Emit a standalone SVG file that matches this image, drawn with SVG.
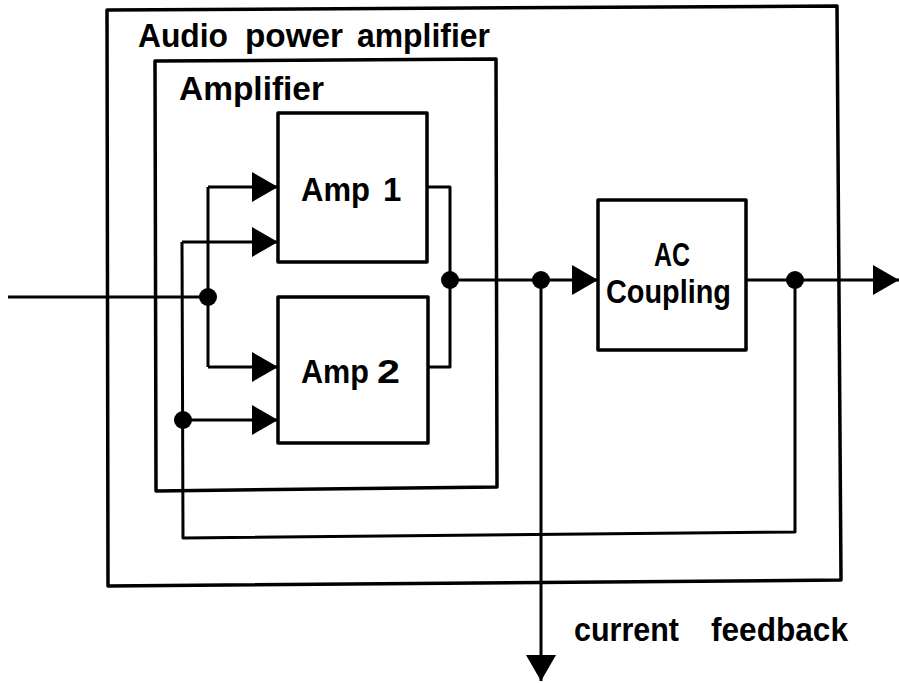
<svg xmlns="http://www.w3.org/2000/svg" width="899" height="683" viewBox="0 0 899 683">
<defs>
<style>
.box{fill:none;stroke:#000;stroke-width:3.5;stroke-linejoin:round}
.w{fill:none;stroke:#000;stroke-width:3;stroke-linejoin:round}
.t{font-family:"Liberation Sans",Arial,sans-serif;font-weight:bold;fill:#000;font-size:33px}
.dot{fill:#000}
</style>
<marker id="arb" viewBox="0 0 26 30" refX="26" refY="15" markerWidth="26" markerHeight="30" markerUnits="userSpaceOnUse" orient="auto">
<path d="M0,0 L26,15 L0,30 Z" fill="#000"/>
</marker>
</defs>
<rect width="899" height="683" fill="#fff"/>
<g id="audio-power-amplifier">
<path class="box" d="M107,10 L837,6 L841,580 L108,586 Z"/>
<text class="t" x="138" y="47" font-size="34" textLength="90" lengthAdjust="spacingAndGlyphs">Audio</text>
<text class="t" x="245" y="47" font-size="34" textLength="98" lengthAdjust="spacingAndGlyphs">power</text>
<text class="t" x="357" y="47" font-size="34" textLength="133" lengthAdjust="spacingAndGlyphs">amplifier</text>
</g>
<g id="amplifier">
<path class="box" d="M155,61 L496,59 L497,487 L156,491 Z"/>
<text class="t" x="179" y="100" textLength="145" lengthAdjust="spacingAndGlyphs">Amplifier</text>
</g>
<g id="amp1">
<rect class="box" x="278" y="113" width="149" height="149"/>
<text class="t" x="301" y="201" textLength="69" lengthAdjust="spacingAndGlyphs">Amp</text>
<text class="t" x="383" y="201">1</text>
</g>
<g id="amp2">
<rect class="box" x="278" y="297" width="150" height="146"/>
<text class="t" x="301" y="383" textLength="68" lengthAdjust="spacingAndGlyphs">Amp</text>
<text class="t" x="377" y="383" textLength="23" lengthAdjust="spacingAndGlyphs">2</text>
</g>
<g id="ac-coupling">
<rect class="box" x="598" y="200" width="148" height="150"/>
<text class="t" x="654" y="266" font-size="32" textLength="36" lengthAdjust="spacingAndGlyphs">AC</text>
<text class="t" x="606" y="303" font-size="32" textLength="125" lengthAdjust="spacingAndGlyphs">Coupling</text>
</g>
<g id="connectors">
<path class="w" d="M8,297 H208"/>
<path class="w" d="M208,187 V367"/>
<path class="w" d="M208,187 H278" marker-end="url(#arb)"/>
<path class="w" d="M208,367 H278" marker-end="url(#arb)"/>
<path class="w" d="M182,242 H278" marker-end="url(#arb)"/>
<path class="w" d="M182,242 L183,538 L795,532 L795,280"/>
<path class="w" d="M182,420 H278" marker-end="url(#arb)"/>
<path class="w" d="M427,187 H450 V367 H428"/>
<path class="w" d="M450,280 H598" marker-end="url(#arb)"/>
<path class="w" d="M541,280 V681" marker-end="url(#arb)"/>
<path class="w" d="M746,280 H899" marker-end="url(#arb)"/>
<circle class="dot" cx="208" cy="297" r="9"/>
<circle class="dot" cx="183" cy="420" r="9"/>
<circle class="dot" cx="450" cy="280" r="9"/>
<circle class="dot" cx="541" cy="280" r="9"/>
<circle class="dot" cx="795" cy="280" r="9"/>
</g>
<text class="t" x="574" y="641" font-size="32" textLength="105" lengthAdjust="spacingAndGlyphs">current</text>
<text class="t" x="711" y="641" font-size="32" textLength="137" lengthAdjust="spacingAndGlyphs">feedback</text>
</svg>
